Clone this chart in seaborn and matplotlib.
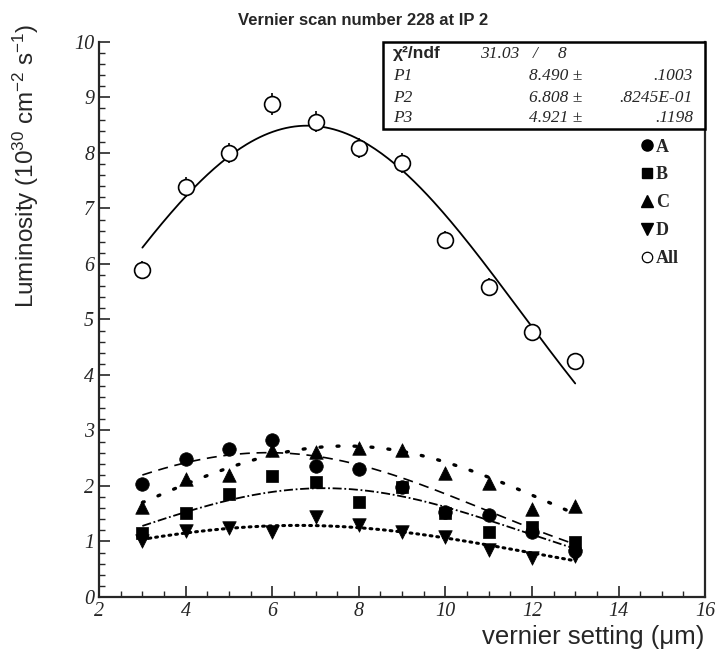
import numpy as np
import pandas as pd
import matplotlib.pyplot as plt
import seaborn as sns
from matplotlib.patches import Rectangle
from matplotlib.lines import Line2D

# vernier settings (um)
setting = [3, 4, 5, 6, 7, 8, 9, 10, 11, 12, 13]

# luminosity per bunch group (10^30 cm^-2 s^-1)
lum_A = [2.04, 2.49, 2.66, 2.83, 2.36, 2.31, 1.99, 1.53, 1.48, 1.18, 0.82]
lum_B = [1.15, 1.51, 1.86, 2.18, 2.08, 1.72, 1.98, 1.52, 1.17, 1.27, 0.99]
lum_C = [1.63, 2.13, 2.20, 2.65, 2.62, 2.69, 2.65, 2.24, 2.06, 1.58, 1.64]
lum_D = [1.00, 1.19, 1.24, 1.17, 1.45, 1.30, 1.17, 1.09, 0.85, 0.70, 0.73]
lum_all = [5.89, 7.39, 8.00, 8.88, 8.56, 8.09, 7.82, 6.43, 5.59, 4.77, 4.25]
err_all = [0.17, 0.18, 0.18, 0.19, 0.19, 0.18, 0.18, 0.17, 0.16, 0.15, 0.15]

# gaussian fit parameters (amplitude, mean, sigma)
fit_all = (8.490, 6.808, 4.921)
fit_A = (2.60, 5.9, 5.00)
fit_B = (1.96, 7.2, 4.55)
fit_C = (2.72, 7.7, 4.85)
fit_D = (1.29, 6.6, 5.48)

sns.set_style("ticks")
plt.rcParams['font.family'] = ['Liberation Sans', 'DejaVu Sans']
plt.rcParams['mathtext.fontset'] = 'custom'
plt.rcParams['mathtext.rm'] = 'Liberation Sans'
plt.rcParams['mathtext.it'] = 'Liberation Sans:italic'

fig = plt.figure(figsize=(7.18, 6.57), dpi=100)
ax = fig.add_axes([0.138, 0.0913, 0.844, 0.845])

xs = np.linspace(3, 13, 200)


def gauss(p):
    a, m, s = p
    return a * np.exp(-0.5 * ((xs - m) / s) ** 2)


# fitted curves
sns.lineplot(x=xs, y=gauss(fit_all), color='black', lw=1.3, ax=ax)
sns.lineplot(x=xs, y=gauss(fit_A), color='black', lw=1.2, ax=ax, linestyle=(0, (6, 4)))
sns.lineplot(x=xs, y=gauss(fit_B), color='black', lw=1.3, ax=ax, linestyle=(0, (5, 1.5, 1, 1.5)))
sns.lineplot(x=xs, y=gauss(fit_C), color='black', lw=2.4, ax=ax, linestyle=(0, (0.6, 4.5)))
sns.lineplot(x=xs, y=gauss(fit_D), color='black', lw=2.2, ax=ax, linestyle=(0, (0.6, 1.6)))
for ln in ax.lines[3:5]:
    ln.set_dash_capstyle('round')

# error bars for the summed luminosity
ax.errorbar(setting, lum_all, yerr=err_all, fmt='none', ecolor='black',
            elinewidth=1.2, capsize=0, zorder=3)

pts = [(lum_A, 'o', 95), (lum_B, 's', 85), (lum_C, '^', 95), (lum_D, 'v', 95)]
for vals, mk, sz in pts:
    sns.scatterplot(x=setting, y=vals, marker=mk, s=sz, color='black',
                    edgecolor='black', linewidth=0.5, ax=ax, zorder=4)
sns.scatterplot(x=setting, y=lum_all, marker='o', s=130, facecolor='white',
                edgecolor='black', linewidth=1.2, ax=ax, zorder=5)

tick_font = dict(fontfamily='Liberation Serif', fontstyle='italic', fontsize=14.5)
ax.set_xlim(2, 16)
ax.set_ylim(0, 10)
xt = np.arange(2, 17, 2)
yt = np.arange(0, 11, 1)
ax.set_xticks(xt, labels=[str(v) for v in xt], **tick_font)
ax.set_yticks(yt, labels=[str(v) for v in yt], **tick_font)
ax.set_xticks(np.arange(2, 16.01, 0.5), minor=True)
ax.set_yticks(np.arange(0, 10.01, 0.2), minor=True)
ax.tick_params(which='major', direction='in', length=8, width=1.2)
ax.tick_params(which='minor', direction='in', length=4, width=1.0)
ax.tick_params(right=False, top=False)
ax.spines['top'].set_visible(False)
for sp in ['left', 'bottom', 'right']:
    ax.spines[sp].set_linewidth(1.6)

fig.text(0.505, 0.969, 'Vernier scan number 228 at IP 2', fontsize=12,
         fontweight='bold', ha='center', va='center')
ax.set_xlabel('vernier setting (\u03bcm)', fontsize=18.5)
ax.xaxis.set_label_coords(0.815, -0.05)
ax.set_ylabel(r'Luminosity (10$^{30}$ cm$^{-2}$ s$^{-1}$)', fontsize=17.5)
ax.yaxis.set_label_coords(-0.096, 0.777)

# legend
handles = [
    Line2D([], [], ls='none', marker='o', ms=8, color='black'),
    Line2D([], [], ls='none', marker='s', ms=7.5, color='black'),
    Line2D([], [], ls='none', marker='^', ms=8, color='black'),
    Line2D([], [], ls='none', marker='v', ms=8, color='black'),
    Line2D([], [], ls='none', marker='o', ms=7.5, mfc='white', mec='black', mew=0.9),
]
ax.legend(handles, ['A', 'B', 'C', 'D', 'All'], loc='upper left',
          bbox_to_anchor=(0.868, 0.855), frameon=False, handlelength=0.6,
          handletextpad=0.2, labelspacing=0.6,
          prop={'family': 'Liberation Serif', 'weight': 'bold', 'size': 13})

# fit statistics box
ax.add_patch(Rectangle((0.4686, 0.843), 0.5314, 0.157, transform=ax.transAxes,
                       fill=True, facecolor='white', edgecolor='black',
                       lw=1.8, clip_on=False, zorder=6))
rows_y = [0.979, 0.939, 0.899, 0.863]
names = ['P1', 'P2', 'P3']
vals = ['8.490 \u00b1', '6.808 \u00b1', '4.921 \u00b1']
errs = ['.1003', '.8245E-01', '.1198']
serif_it = dict(family='Liberation Serif', style='italic', fontsize=12.5,
                transform=ax.transAxes, va='center', zorder=7)
ax.text(0.485, rows_y[0], '\u03c7\u00b2/ndf', fontsize=12.5, fontweight='bold',
        transform=ax.transAxes, va='center', zorder=7)
ax.text(0.629, rows_y[0], '31.03', **serif_it)
ax.text(0.716, rows_y[0], '/', **serif_it)
ax.text(0.757, rows_y[0], '8', **serif_it)
for yy, n, v, e in zip(rows_y[1:], names, vals, errs):
    ax.text(0.485, yy, n, **serif_it)
    ax.text(0.797, yy, v, ha='right', **serif_it)
    ax.text(0.980, yy, e, ha='right', **serif_it)

fig.savefig('out.png', dpi=100)
